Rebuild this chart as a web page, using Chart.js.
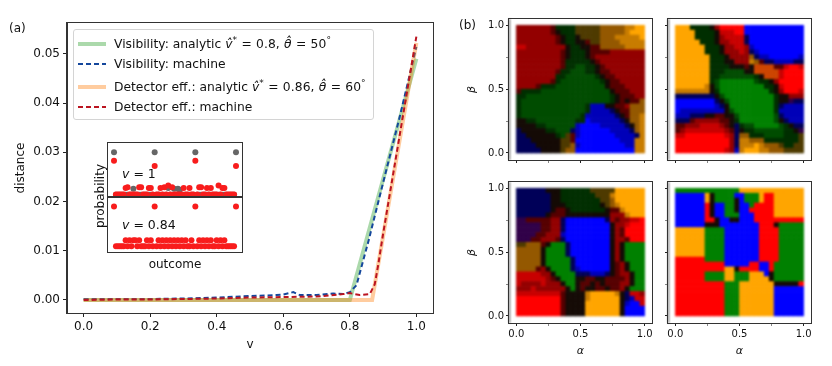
<!DOCTYPE html>
<html>
<head>
<meta charset="utf-8">
<script src="https://cdn.jsdelivr.net/npm/chart.js@4"></script>
<style>
  html, body { margin: 0; padding: 0; background: #fff; }
  #page { position: relative; width: 832px; height: 366px; overflow: hidden; font-family: "DejaVu Sans", sans-serif; color: #111; filter: blur(0.35px); }
  #page canvas { position: absolute; }
  .txt { position: absolute; white-space: nowrap; font-size: 12px; line-height: 14px; }
  #legend { position: absolute; left: 73px; top: 29px; width: 299px; height: 89px; border: 1px solid #d4d4d4; border-radius: 3px; background: rgba(255,255,255,0.8); }
  #legend svg { position: absolute; left: 3px; }
  #legend span.lab { position: absolute; left: 40px; white-space: nowrap; font-size: 12.3px; line-height: 14px; }
  .m { word-spacing: 0.2px; letter-spacing: 0.1px; }
  sup { font-size: 9px; line-height: 0; }
</style>
</head>
<body>
<div id="page">
  <canvas id="main"></canvas>
  <div id="legend"></div>
  <canvas id="insetTop"></canvas>
  <canvas id="insetBottom"></canvas>
  <canvas id="p1"></canvas>
  <canvas id="p2"></canvas>
  <canvas id="p3"></canvas>
  <canvas id="p4"></canvas>
  <div class="txt" style="left:9px;top:21px">(a)</div>
  <div class="txt" style="left:459px;top:18px">(b)</div>
  <div class="txt" style="left:122px;top:167px;font-size:12.5px"><i>v</i> = 1</div>
  <div class="txt" style="left:122px;top:218px;font-size:12.5px"><i>v</i> = 0.84</div>
  <div class="txt" style="left:100px;top:196px;transform:translate(-50%,-50%) rotate(-90deg)">probability</div>
</div>
<script>
// panel (a)
var visAnalyticV = [0, 0.8, 1];
var visAnalytic = [0, 0, 0.049];
var visMachineV = [0, 0.1, 0.2, 0.3, 0.4, 0.5, 0.58, 0.6, 0.63, 0.65, 0.7, 0.75, 0.78, 0.8, 0.82, 0.857, 0.9, 0.95, 1];
var visMachine = [0.0002, 0.0002, 0.0002, 0.0003, 0.0005, 0.0008, 0.0010, 0.0011, 0.0016, 0.0010, 0.0010, 0.0013, 0.0012, 0.0016, 0.0030, 0.0122, 0.0238, 0.0372, 0.0514];
var detAnalyticV = [0, 0.867, 1];
var detAnalytic = [0, 0, 0.0522];
var detMachineV = [0, 0.1, 0.2, 0.3, 0.4, 0.5, 0.6, 0.7, 0.78, 0.8, 0.83, 0.86, 0.875, 0.885, 0.9, 0.95, 1];
var detMachine = [0, 0.0001, 0.0001, 0.0002, 0.0003, 0.0005, 0.0006, 0.0007, 0.0012, 0.0014, 0.0010, 0.0012, 0.0032, 0.0070, 0.0134, 0.0335, 0.0535];
var seriesLabels = [
  'Visibility: analytic <span class="m"><i>v&#770;</i><sup>*</sup> = 0.8, <i>&theta;&#770;</i> = 50<sup>&deg;</sup></span>',
  'Visibility: machine',
  'Detector eff.: analytic <span class="m"><i>v&#770;</i><sup>*</sup> = 0.86, <i>&theta;&#770;</i> = 60<sup>&deg;</sup></span>',
  'Detector eff.: machine'
];

// inset, 64 outcomes
var idealOne = [0.25,0,0,0,0,0,0,0,0,0,0.035,0,0,0,0,0,0,0,0,0,0,0.25,0,0,0,0,0,0,0.04,0,0,0.035,0,0.035,0.03,0,0,0,0,0,0,0,0.25,0,0,0,0,0,0,0,0,0,0,0,0,0,0,0,0,0,0,0,0,0.25];
var machineOne = [0.2,0.002,0.002,0.002,0.002,0.002,0.04,0.045,0.002,0.002,0.002,0.002,0.002,0.045,0.045,0.002,0.002,0.002,0.04,0.04,0.002,0.17,0.002,0.002,0.04,0.002,0.045,0.002,0.055,0.002,0.045,0.002,0.002,0.002,0.002,0.002,0.04,0.002,0.002,0.04,0.002,0.002,0.2,0.002,0.045,0.045,0.002,0.002,0.04,0.002,0.04,0.002,0.002,0.002,0.055,0.002,0.04,0.04,0.002,0.002,0.002,0.002,0.002,0.17];
var machineLow = [0.25,0.02,0.02,0.02,0.02,0.02,0.055,0.02,0.055,0.02,0.055,0.055,0.02,0.055,0.02,0.02,0.02,0.055,0.02,0.055,0.02,0.25,0.02,0.055,0.02,0.055,0.02,0.055,0.02,0.055,0.02,0.055,0.02,0.055,0.02,0.055,0.02,0.055,0.02,0.02,0.055,0.02,0.25,0.02,0.055,0.02,0.055,0.02,0.055,0.02,0.055,0.02,0.02,0.055,0.02,0.055,0.02,0.055,0.02,0.02,0.02,0.02,0.02,0.25];

// panel (b): colour code per cell, rows from beta=1 down to beta=0
var cellColors = { R:'#ff0000', r:'#c80000', d:'#930000', e:'#560000', k:'#140a05', B:'#0000ff', b:'#0000b8', n:'#000058',
  G:'#008000', g:'#004c00', h:'#002e00', O:'#ffa500', o:'#c87c00', p:'#945800', y:'#4e3a00', z:'#cc4400', v:'#300048' };
var gridA = [
  'dddddddehhhhyyyyypppppooOO','dddddddekhhhyyyyypppppoOOO','ddddddddekhhkyyyypppoooooO','ddddddddekhhkkeyyppppooooo',
  'rrddddddddkhhkkeepppppoooo','dddddddddekhhhkeeeeddddddd','dddddddddekhhhkedddddddddd','dddddddddehhhhhkeddddddddd',
  'dddddddddehhgghhkedddddddd','ddddddddehhggghhkeeddddddd','ddddddddhhgggggghkeedddddd','dddddddehgggggggghkeeddddd',
  'ddddehhhggggggggggkeeedddd','ehhhhggggggggggggggkeeeddd','hhggggggggggggggggghkeeedd','hgggggggggggggggggghkekeep',
  'hggggggggggggghbbbkkeedppp','hggggggggggggghbbbbnkeeppp','hgggggggggggghbbbbbbnkeppo','kkhhgggggggghhBbbbbbbnkppo',
  'kkkkhhggggggbBBBBbbbbbnkpo','nkkkkkhhgggnbBBBBBBbbbbnpo','nnkkkkkkhgyebBBBBBBBbbbbno','nnnkkkkkkyyeBBBBBBBBBbbboo',
  'nnnnkkkkkyypbBBBBBBBBBbboo','nnnnnkkkkyppBBBBBBBBBBBBoo'
];
var gridB = [
  'OOOhhhhkdRRRRRBBBBBBBBBBBB','OOOOhhhhkrrrRRBBBBBBBBBBBB','OOOOhhhhkdrrrrnBBBBBBBBBBB','OOOOOhhhkddrrrnBBBBBBBBBBB',
  'OOOOOOhhhkddrrdbBBBBBBBBBB','OOOOOOhhhkdddrdnbBBBBBBBBB','OOOOOOOhhhkddddpnbbBBBBBBb','OOOOOOOhhhkkdddopennbbbbnn',
  'OOOOOOOhhhhkkkekzzzzeerRRr','OOOOOOOhhhggggkkzzzzzrRRRR','OOOOOOOhhggggggghkzzzrRRRR','OOOOOOOhgGGGGGGGghhkdRRRRR',
  'OOOOOOokgGGGGGGGGGhhkrRRRR','oooooookhGGGGGGGGGGhkdRRRr','nnnnnnnnkgGGGGGGGGGGhkkddd','BBBBBBBBnkgGGGGGGGGGhkkvnn',
  'BBBBBBBBbnkGGGGGGGGGhnbbbb','BbbbbbbbbbkgGGGGGGGGhbbbbb','bbbnnnkkeekkgGGGGGGGgnbbbb','nnnedddddeekhGGGGGGGgknbbb',
  'eedddrrrrdeknhggGGGGGghknn','edrrrrrrrrdenkhhgggggghhkv','rrRRRRRRRRrdnpphhhgggghhhy','RRRRRRRRRRRdnooppphhhhhhhy',
  'RRRRRRRRRRRdnoooOopppyhhyy','RRRRRRRRRRrdboOOOoopppyyyy'
];
var gridC = [
  'nnnnnnkkkhhhhhhyyyyyOOOOOO','nnnnnnnkkhhhhhhhyyyoOOOOOO','nnnnnnnkkhhhhhhhhyypOOOOOO','nnnnnnnkkkhhhhhhhkypoOOOOO',
  'nnnnnnnkeekhhhhhhhkeeoOOOO','nnnnnnkeeekkkkkkkkkdddoOOO','vveeeeeddnBBBBBBBBndeddrrR','vvvvveeddnBBBBBBBBBkddrRRR',
  'vvvvveeddnBBBBBBBBBkdeRRRR','vvvveedddbBBBBBBBBBkdeRRRR','vvveedddenBBBBBBBBBkddeRRR','yypppekGGGnBBBBBBBBkdkGGGG',
  'pppppkGGGGnBBBBBBBBkdkGGGG','pppppkGGGGnBBBBBBBBkdkGGGG','pppppkGGGGGnBBBBBBBkdkGGGG','pppppkGGGGGnBBBBBBBkedkGGG',
  'ppppedkGGGGnbBBBBBBkedkGGG','rrrrrddkGGGGnnnbbbnkeddkGG','rrrrrrdekGGGkkeekkeeeedkGG','rddddrdddkGGkeekekeeeddkGG',
  'dddrddddddkGkekkeekeedkGGG','rrrrrrrrrekkkkoOOOOOoknrrd','RRRRRRRRRekkkkoOOOOOOknbrr','RRRRRRRRRekkkkOOOOOOOkbBBr',
  'RRRRRRRRRekkkkOOOOOOOkBBBB','RRRRRRRRRekkkkOOOOOOOkBBBB'
];
var gridD = [
  'GGGGGGGGGGGGGOOOOOOOOOOOOO','BBBBBBOkGGGGBBGGGORROOOOOO','BBBBBBOkGGGGkBGGGORROOOOOO','BBBBBBRkBBGGkBBGRRRROOOOOO',
  'BBBBBBRkBBGGkBBRRRRROOOOOO','BBBBBBRkBBGGGBBBRRRROOOOOO','BBBBBBRRkBBkkBBBRRRRRRRRRR','BBBBBBkkkBBBBBBBBRRRkGGGGG',
  'OOOOOOGGGGBBBBBBBRRRRGGGGG','OOOOOOGGGGBBBBBBBRRRRGGGGG','OOOOOOGGGGBBBBBBBRRRRGGGGG','OOOOOOGGGGBBBBBBBRRRRGGGGG',
  'OOOOOOGGGGBBBBBBBRRRRGGGGG','OOOOOOGGGGBBBBBBBRRRRGGGGG','RRRRRRGGGGBBBBBBBRRRRGGGGG','RRRRRRRRRRBBBBBRRBBRGGGGGG',
  'RRRRRRRRRROOkRRRRBBRGGGGGG','RRRRRRGGGGOOGGGOOOBkGGGGGG','RRRRRRGGGGOOGGGOOOOkGGGGGG','RRRRRRRRRRGGGOOOOOOOkkkkkR',
  'RRRRRRRRRRGGGOOOOOOOBBBBBB','RRRRRRRRRRGGGOOOOOOOBBBBBB','RRRRRRRRRRGGGOOOOOOOBBBBBB','RRRRRRRRRRGGGOOOOOOOBBBBBB',
  'RRRRRRRRRRGGGOOOOOOOBBBBBB','RRRRRRRRRRGGGOOOOOOOBBBBBB'
];
var panelTicks = [0, 0.5, 1];

Chart.defaults.font.family = '"DejaVu Sans", sans-serif';
Chart.defaults.color = '#111';
Chart.defaults.animation = false;
Chart.defaults.responsive = false;
Chart.defaults.layout.autoPadding = false;
Chart.defaults.plugins.legend.display = false;
Chart.defaults.plugins.tooltip.enabled = false;

// top and right spines
var framePlugin = {
  id: 'frame',
  afterDraw: function (chart) {
    var a = chart.chartArea, c = chart.ctx;
    c.save();
    c.strokeStyle = '#333';
    c.lineWidth = 1;
    c.strokeRect(Math.round(a.left) - 0.5, Math.round(a.top) - 0.5, Math.round(a.right - a.left) + 1, Math.round(a.bottom - a.top) + 1);
    c.restore();
  }
};

// soft edges for the cell panels, the scatter in the original is fuzzy
var softCells = {
  id: 'softCells',
  afterDatasetsDraw: function (chart) {
    var a = chart.chartArea, c = chart.ctx, w = a.right - a.left, h = a.bottom - a.top;
    var tmp = document.createElement('canvas');
    tmp.width = w;
    tmp.height = h;
    tmp.getContext('2d').drawImage(chart.canvas, a.left, a.top, w, h, 0, 0, w, h);
    c.save();
    c.clearRect(a.left, a.top, w, h);
    c.filter = 'blur(1.1px)';
    c.drawImage(tmp, a.left, a.top);
    c.restore();
  }
};

function place(id, left, top, w, h) {
  var el = document.getElementById(id);
  el.width = w;
  el.height = h;
  el.style.left = left + 'px';
  el.style.top = top + 'px';
  el.style.width = w + 'px';
  el.style.height = h + 'px';
  return el.getContext('2d');
}

function pairs(xs, ys) {
  return ys.map(function (y, i) { return { x: xs[i], y: y }; });
}

// main chart
var mainChart = new Chart(place('main', 0, 0, 445, 366), {
  type: 'line',
  data: {
    datasets: [
      { data: pairs(visAnalyticV, visAnalytic), borderColor: 'rgba(44,160,44,0.4)', borderWidth: 4, order: 4 },
      { data: pairs(visMachineV, visMachine), borderColor: '#14479c', borderWidth: 2, borderDash: [5, 3], order: 3 },
      { data: pairs(detAnalyticV, detAnalytic), borderColor: 'rgba(255,127,14,0.4)', borderWidth: 4, order: 2 },
      { data: pairs(detMachineV, detMachine), borderColor: '#bb1420', borderWidth: 2, borderDash: [5, 3], order: 1 }
    ]
  },
  options: {
    layout: { padding: { top: 23, right: 12, left: 0, bottom: 0 } },
    elements: { point: { radius: 0 }, line: { tension: 0 } },
    scales: {
      x: {
        type: 'linear', min: -0.05, max: 1.05,
        ticks: { stepSize: 0.2, includeBounds: false, font: { size: 12 }, padding: 3, maxRotation: 0,
          callback: function (v) { return v.toFixed(1); } },
        grid: { drawOnChartArea: false, tickLength: 4, tickColor: '#222' },
        border: { color: '#333' },
        title: { display: true, text: 'v', font: { size: 12 }, padding: { top: 0, bottom: 14 } },
        afterFit: function (s) { s.height = 53; }
      },
      y: {
        min: -0.00264, max: 0.05625,
        ticks: { stepSize: 0.01, includeBounds: false, font: { size: 12 }, padding: 3,
          callback: function (v) { return v.toFixed(2); } },
        grid: { drawOnChartArea: false, tickLength: 4, tickColor: '#222' },
        border: { color: '#333' },
        title: { display: true, text: 'distance', font: { size: 12 }, padding: { top: 14, bottom: 0 } },
        afterFit: function (s) { s.width = 67; }
      }
    }
  },
  plugins: [framePlugin]
});

// legend built from the chart's datasets
var legendTops = [7, 27, 50, 70];
var legendEl = document.getElementById('legend');
mainChart.data.datasets.forEach(function (ds, i) {
  var dash = ds.borderDash ? ' stroke-dasharray="' + ds.borderDash.join(' ') + '"' : '';
  legendEl.insertAdjacentHTML('beforeend',
    '<svg width="30" height="8" style="top:' + (legendTops[i] + 3) + 'px"><line x1="1" x2="29" y1="4" y2="4" stroke="' +
    ds.borderColor + '" stroke-width="' + ds.borderWidth + '"' + dash + '/></svg>' +
    '<span class="lab" style="top:' + legendTops[i] + 'px">' + seriesLabels[i] + '</span>');
});

// inset charts
function insetChart(id, top, h, series, showX) {
  var datasets = series.map(function (s) {
    return {
      data: s.values.map(function (p, i) { return { x: i, y: p }; }),
      showLine: false,
      pointBackgroundColor: s.color,
      pointBorderWidth: 0,
      pointRadius: 3,
      order: s.order
    };
  });
  return new Chart(place(id, 106, top, 138, h), {
    type: 'scatter',
    data: { datasets: datasets },
    options: {
      layout: { padding: { left: 2, right: 2, top: 1, bottom: showX ? 0 : 1 } },
      scales: {
        x: { min: -3.1, max: 66.1, display: showX,
          ticks: { display: false }, grid: { display: false }, border: { display: false },
          title: { display: showX, text: 'outcome', font: { size: 12 }, padding: { top: 1, bottom: 0 } },
          afterFit: function (s) { s.height = showX ? 20 : 0; } },
        y: { min: -0.013, max: 0.305, display: false }
      }
    },
    plugins: [framePlugin]
  });
}
insetChart('insetTop', 142, 56,
  [{ values: idealOne, color: '#666', order: 2 }, { values: machineOne, color: '#f81c1c', order: 1 }], false);
insetChart('insetBottom', 196, 76,
  [{ values: machineLow, color: '#f81c1c', order: 1 }], true);

// panels of (b)
function panel(id, grid, plotLeft, plotTop, showX, showY) {
  var marginL = 44, marginB = 40, plotW = 143, plotH = 147;
  var pts = [], cols = [];
  grid.forEach(function (row, r) {
    row.split('').forEach(function (code, c) {
      pts.push({ x: (c + 0.5) / row.length, y: 1 - (r + 0.5) / grid.length });
      cols.push(cellColors[code]);
    });
  });
  function tickOpts(show) {
    return {
      stepSize: 0.25, includeBounds: false, autoSkip: false, font: { size: 10 }, padding: 2, maxRotation: 0,
      callback: function (v) { return show && panelTicks.indexOf(v) >= 0 ? v.toFixed(1) : ''; }
    };
  }
  function gridOpts() {
    return {
      drawOnChartArea: false, tickLength: 3,
      tickColor: function (ctx) { return panelTicks.indexOf(ctx.tick.value) >= 0 ? '#222' : '#888'; }
    };
  }
  return new Chart(place(id, plotLeft - marginL, plotTop - 2, marginL + plotW + 4, plotH + 2 + marginB), {
    type: 'scatter',
    data: { datasets: [{ data: pts, pointStyle: 'rect', pointBackgroundColor: cols, pointBorderWidth: 0, pointRadius: 3.9 }] },
    options: {
      layout: { padding: { top: 2, right: 4, left: 0, bottom: 0 } },
      scales: {
        x: { min: -0.057, max: 1.057, ticks: tickOpts(showX), grid: gridOpts(), border: { color: '#333' },
          title: { display: showX, text: '\u03b1', font: { size: 11, style: 'italic' }, padding: { top: 0, bottom: 5 } },
          afterFit: function (s) { s.height = marginB; } },
        y: { min: -0.055, max: 1.049, ticks: tickOpts(showY), grid: gridOpts(), border: { color: '#333' },
          title: { display: showY, text: '\u03b2', font: { size: 11, style: 'italic' }, padding: { top: 1, bottom: 0 } },
          afterFit: function (s) { s.width = marginL; } }
      }
    },
    plugins: [softCells, framePlugin]
  });
}
panel('p1', gridA, 509, 13, false, true);
panel('p2', gridB, 668, 13, false, false);
panel('p3', gridC, 509, 176, true, true);
panel('p4', gridD, 668, 176, true, false);
</script>
</body>
</html>
